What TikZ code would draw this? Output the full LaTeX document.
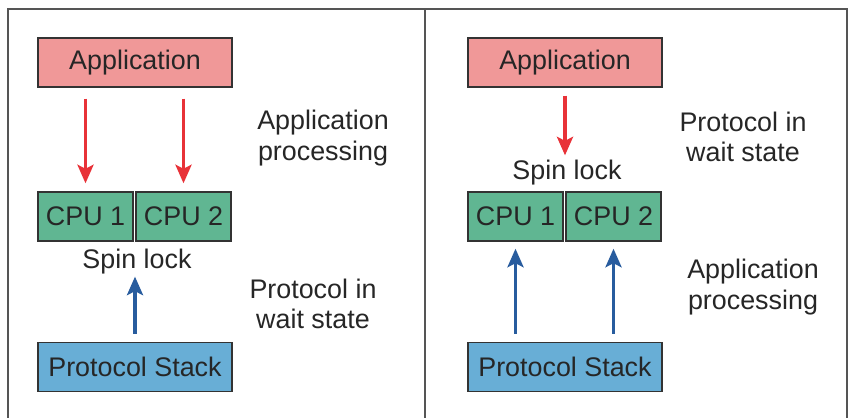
\documentclass[tikz,border=0pt]{standalone}
\usepackage{fontspec}
\setmainfont{Liberation Sans}
\usetikzlibrary{arrows.meta}
\definecolor{appred}{RGB}{240,152,152}
\definecolor{cpugreen}{RGB}{96,182,146}
\definecolor{stackblue}{RGB}{104,174,214}
\definecolor{arrred}{RGB}{232,50,56}
\definecolor{arrblue}{RGB}{40,92,158}
\definecolor{framegray}{RGB}{85,85,85}
\begin{document}
\begin{tikzpicture}[x=0.02cm, y=-0.02cm,
    >={Stealth[length=0.37cm, width=0.32cm, inset=0.08cm]},
    every node/.style={font=\fontsize{15.3}{17.5}\selectfont, text=black!85, inner sep=1pt},
    box/.style={draw=black!80, line width=0.8pt, rectangle, minimum height=0.98cm},
    appbox/.style={box, fill=appred, minimum width=3.88cm},
    cpubox/.style={box, fill=cpugreen, minimum width=1.9cm},
    stackbox/.style={box, fill=stackblue, minimum width=3.88cm},
    sidetext/.style={align=center},
    redarrow/.style={->, draw=arrred, line width=2.2pt},
    bluearrow/.style={->, draw=arrblue, line width=2.2pt}]
    \useasboundingbox (0,0) rectangle (859,418);
    % frame
    \draw[framegray, line width=1pt] (8,418) -- (8,9) -- (847,9) -- (847,418);
    \draw[framegray, line width=1pt] (425,9) -- (425,418);

    % left panel
    \node[appbox] (appL) at (135,62.5) {Application};
    \node[cpubox] (cpu1L) at (85.5,216.5) {CPU 1};
    \node[cpubox] (cpu2L) at (183.5,216.5) {CPU 2};
    \node (spinL) at (137,262) {Spin lock};
    \node[stackbox] (stackL) at (135,367) {Protocol Stack};
    \node[sidetext] (procL) at (323,138) {Application\\processing};
    \node[sidetext] (waitL) at (313,304) {Protocol in\\wait state};
    \draw[redarrow, shorten <=0.22cm, shorten >=0.16cm] (appL.south -| cpu1L) -- (cpu1L.north);
    \draw[redarrow, shorten <=0.22cm, shorten >=0.16cm] (appL.south -| cpu2L) -- (cpu2L.north);
    \draw[bluearrow, shorten <=0.16cm] (stackL.north) -- (stackL.north |- spinL.south);

    % right panel
    \node[appbox] (appR) at (565,62.5) {Application};
    \node (spinR) at (567,173) {Spin lock};
    \node[cpubox] (cpu1R) at (515.5,216.5) {CPU 1};
    \node[cpubox] (cpu2R) at (613.5,216.5) {CPU 2};
    \node[stackbox] (stackR) at (565,367) {Protocol Stack};
    \node[sidetext] (waitR) at (743,137) {Protocol in\\wait state};
    \node[sidetext] (procR) at (753,287) {Application\\processing};
    \draw[redarrow, shorten <=0.16cm, shorten >=0.06cm] (appR.south) -- (appR.south |- spinR.north);
    \draw[bluearrow, shorten <=0.16cm, shorten >=0.14cm] (stackR.north -| cpu1R) -- (cpu1R.south);
    \draw[bluearrow, shorten <=0.16cm, shorten >=0.14cm] (stackR.north -| cpu2R) -- (cpu2R.south);
\end{tikzpicture}
\end{document}
